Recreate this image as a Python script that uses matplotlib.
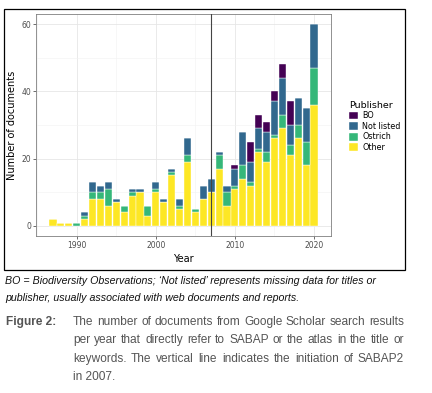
import numpy as np
import matplotlib.pyplot as plt
from matplotlib.patches import Rectangle

# documents per year, by publisher
years = list(range(1987, 2021))
other = [2, 1, 1, 0, 2, 8, 8, 6, 7, 4, 9, 10, 3, 10, 7, 15, 5, 19, 4, 8, 10, 17,
         6, 11, 14, 12, 22, 19, 26, 29, 21, 26, 18, 36]
ostrich = [0, 0, 0, 1, 1, 2, 2, 5, 0, 2, 1, 0, 3, 1, 0, 1, 1, 2, 1, 0, 0, 4,
           4, 1, 4, 1, 1, 3, 1, 4, 3, 4, 7, 11]
not_listed = [0, 0, 0, 0, 1, 3, 2, 2, 1, 0, 1, 1, 0, 2, 1, 1, 2, 5, 0, 4, 4, 1,
              2, 5, 10, 6, 6, 6, 10, 11, 6, 8, 10, 13]
bo = [0] * 23 + [1, 0, 6, 4, 3, 3, 4, 7, 0, 0, 0]

series = [("Other", other, "#FDE725"), ("Ostrich", ostrich, "#35B779"),
          ("Not listed", not_listed, "#31688E"), ("BO", bo, "#440154")]

note = ["BO = Biodiversity Observations; \u2018Not listed\u2019 represents missing data for titles or",
        "publisher, usually associated with web documents and reports."]
body = ["The number of documents from Google Scholar search results",
        "per year that directly refer to SABAP or the atlas in the title or",
        "keywords. The vertical line indicates the initiation of SABAP2",
        "in 2007."]

W, H = 432, 393
fig = plt.figure(figsize=(W / 100, H / 100), dpi=100)
renderer = fig.canvas.get_renderer()

def fx(px):
    return px / W

def fy(py):
    return 1 - py / H

def width_px(t):
    return t.get_window_extent(renderer).width

# outer frame around the chart
fig.patches.append(Rectangle((fx(4), fy(270)), fx(401), 261 / H, transform=fig.transFigure,
                             fill=False, edgecolor="black", linewidth=0.9))

ax = fig.add_axes([fx(36), fy(236), fx(295), 222 / H])
bottom = np.zeros(len(years))
handles = []
for name, vals, col in series:
    h = ax.bar(years, vals, width=0.9, bottom=bottom, color=col, edgecolor="white",
               linewidth=0.3, label=name, zorder=3)
    handles.append(h)
    bottom += np.array(vals)

ax.axvline(2007, color="#444444", linewidth=0.8, zorder=4)

ax.set_xlim(1984.85, 2022.15)
ax.set_ylim(-3, 63)
ax.set_xticks([1990, 2000, 2010, 2020])
ax.set_xticks([1985, 1995, 2005, 2015], minor=True)
ax.set_yticks([0, 20, 40, 60])
ax.set_yticks([10, 30, 50], minor=True)
ax.grid(True, which="major", color="#E6E6E6", linewidth=0.6, zorder=0)
ax.grid(True, which="minor", color="#F2F2F2", linewidth=0.4, zorder=0)
ax.tick_params(which="major", labelsize=5.5, labelcolor="#4D4D4D", color="#333333",
               length=2, width=0.5, pad=1.5)
ax.tick_params(which="minor", length=0)
for s in ax.spines.values():
    s.set_color("#7F7F7F")
    s.set_linewidth(0.6)
ax.set_xlabel("Year", fontsize=7, labelpad=3)
ax.set_ylabel("Number of documents", fontsize=7, labelpad=3)

leg = ax.legend(handles[::-1], [n for n, _, _ in series][::-1], title="Publisher",
                loc="upper left", bbox_to_anchor=(fx(343), fy(95)),
                bbox_transform=fig.transFigure, frameon=False, fontsize=5.8,
                title_fontsize=6.8, handlelength=1.2, handleheight=1.1,
                handletextpad=0.5, labelspacing=0.2, borderpad=0.2)
leg._legend_box.align = "left"

# caption under the chart
cap_font = ["Liberation Sans Narrow", "Liberation Sans", "DejaVu Sans"]

# italic note: size chosen so the first line spans x=5..377 px
probe = fig.text(0, 0, note[0], fontsize=10, style="italic", family=cap_font)
note_fs = 10 * 372 / width_px(probe)
probe.remove()
for i, line in enumerate(note):
    fig.text(fx(5), fy(281 + 17 * i), line, fontsize=note_fs, style="italic",
             family=cap_font, va="center", color="#111111")

# body: size chosen so the first line spans x=73..404 px, then justified
left_px, right_px = 73, 404
probe = fig.text(0, 0, body[0], fontsize=10, family=cap_font)
body_fs = 10 * (right_px - left_px) / width_px(probe)
probe.remove()

fig.text(fx(6), fy(322), "Figure 2:", fontsize=body_fs, weight="bold", family=cap_font,
         va="center", color="#555555")
for i, line in enumerate(body):
    ypos = fy(322 + 18.3 * i)
    if i == len(body) - 1:
        fig.text(fx(left_px), ypos, line, fontsize=body_fs, family=cap_font,
                 va="center", color="#555555")
        continue
    words = line.split()
    arts = [fig.text(0, ypos, w, fontsize=body_fs, family=cap_font, va="center",
                     color="#555555") for w in words]
    widths = [width_px(a) for a in arts]
    gap = (right_px - left_px - sum(widths)) / (len(words) - 1)
    x = left_px
    for a, wd in zip(arts, widths):
        a.set_x(fx(x))
        x += wd + gap

fig.savefig("out.png", dpi=100)
